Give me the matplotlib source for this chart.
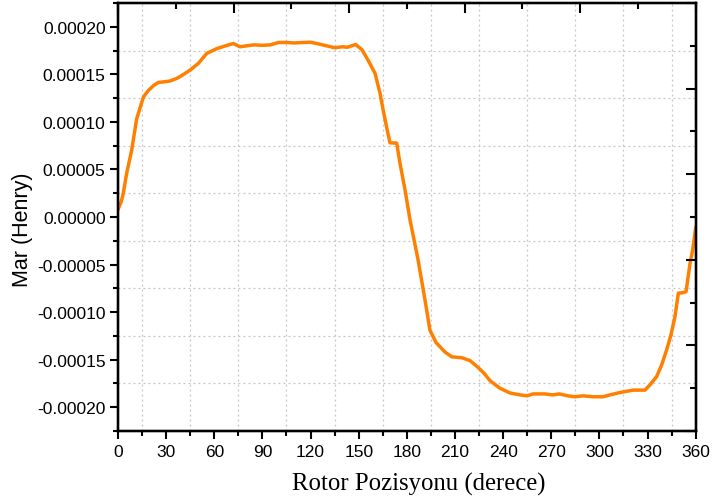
import numpy as np
import matplotlib.pyplot as plt
from matplotlib.ticker import MultipleLocator

# rotor position (degrees) and mutual inductance (Henry)
angle = [0, 2, 3.3, 5.4, 8.5, 11.6, 15.8, 18.9, 22, 25.1, 28, 32.4, 36.6, 40,
         44.9, 50, 55.3, 61.5, 67, 71.9, 76, 80.2, 85, 90, 95, 100, 105, 110,
         115, 120, 125, 130, 135, 140, 143, 148.1, 152, 155.8, 160.2, 163.3,
         165.3, 167.4, 169.5, 173.7, 175.7, 178.9, 182, 187, 191.3, 194.4,
         198.2, 203.8, 208.1, 214.4, 219.4, 224.3, 228, 231.8, 238, 244.3,
         250.5, 254.9, 258.6, 266.1, 271.1, 275, 280.4, 284.8, 289.8, 296,
         302.2, 306.6, 311.6, 316, 321, 328.4, 331.5, 335.7, 338.8, 341.9,
         344.6, 347.1, 349.2, 351.3, 354, 356.5, 358.1, 360]
mar = [0.000008, 0.000016, 0.000025, 0.000046, 0.000070, 0.000103, 0.000126,
       0.000133, 0.000138, 0.0001415, 0.000142, 0.000143, 0.0001457, 0.000149,
       0.0001544, 0.0001614, 0.000172, 0.000177, 0.00018, 0.0001824, 0.000179,
       0.00018, 0.000181, 0.0001805, 0.000181, 0.0001835, 0.0001835, 0.000183,
       0.0001835, 0.0001838, 0.000182, 0.00018, 0.000178, 0.000179, 0.0001785,
       0.0001814, 0.000176, 0.000165, 0.000151, 0.000130, 0.000112, 0.0000945,
       0.000078, 0.0000777, 0.0000567, 0.0000284, -0.0000032, -0.000045,
       -0.000087, -0.000119, -0.000132, -0.000142, -0.000147, -0.000148,
       -0.000151, -0.000158, -0.000164, -0.000172, -0.00018, -0.000185,
       -0.000187, -0.000188, -0.000186, -0.000186, -0.000187, -0.000186,
       -0.000188, -0.000189, -0.000188, -0.000189, -0.000189, -0.000187,
       -0.000185, -0.0001835, -0.000182, -0.000182, -0.0001765, -0.0001677,
       -0.0001555, -0.0001397, -0.000124, -0.0001047, -0.00008, -0.0000798,
       -0.0000785, -0.0000486, -0.0000347, -0.0000116]

x_ticks = list(range(0, 361, 30))
y_ticks = [-0.0002, -0.00015, -0.0001, -0.00005, 0.0, 0.00005, 0.0001,
           0.00015, 0.0002]

C_LINE = "#FF8000"

plt.rcParams["font.family"] = ["Liberation Sans", "DejaVu Sans"]

fig = plt.figure(figsize=(7.13, 5.02), dpi=100)
ax = fig.add_axes([0.1655, 0.1394, 0.8102, 0.8526])

ax.plot(angle, mar, color=C_LINE, lw=2.5, solid_joinstyle="round")

ax.set_xlim(0, 360)
ax.set_ylim(-0.000225, 0.000225)
ax.set_xticks(x_ticks)
ax.set_yticks(y_ticks)
ax.set_yticklabels([f"{v:.5f}" for v in y_ticks])
ax.xaxis.set_minor_locator(MultipleLocator(15))
ax.yaxis.set_minor_locator(MultipleLocator(0.000025))

# grid sits on the minor ticks only
ax.grid(False)
for gx in np.arange(15, 360, 30):
    ax.axvline(gx, color="#c4c4c4", lw=0.9, ls=(0, (1.5, 2.5)), zorder=0)
for gy in np.arange(-0.000175, 0.0002, 0.00005):
    ax.axhline(gy, color="#c4c4c4", lw=0.9, ls=(0, (1.5, 2.5)), zorder=0)

ax.tick_params(which="major", direction="out", length=6, width=1.5,
               labelsize=12.5, pad=3)
ax.tick_params(which="minor", direction="out", length=3.5, width=1.5)
ax.tick_params(top=False, right=False, which="both")
for s in ax.spines.values():
    s.set_linewidth(1.6)

ax.set_ylabel("Mar (Henry)", fontsize=15.5)
ax.yaxis.set_label_coords(-0.148, 0.473)
ax.set_xlabel("Rotor Pozisyonu (derece)", fontsize=17.8,
              family=["Liberation Serif", "DejaVu Serif"])
ax.xaxis.set_label_coords(0.52, -0.095)

# Origin-style mirrored axes with their own tick spacing, no labels
ax_top = ax.twiny()
ax_top.set_xlim(0, 5)
ax_top.xaxis.set_major_locator(MultipleLocator(1))
ax_top.xaxis.set_minor_locator(MultipleLocator(0.5))
ax_top.tick_params(axis="x", which="major", direction="in", length=7,
                   width=1.5, labeltop=False)
ax_top.tick_params(axis="x", which="minor", direction="in", length=4,
                   width=1.5)

ax_right = ax.twinx()
ax_right.set_ylim(0, 5)
ax_right.yaxis.set_major_locator(MultipleLocator(1))
ax_right.yaxis.set_minor_locator(MultipleLocator(0.5))
ax_right.tick_params(axis="y", which="major", direction="in", length=7,
                     width=1.5, labelright=False)
ax_right.tick_params(axis="y", which="minor", direction="in", length=4,
                     width=1.5)
for a in (ax_top, ax_right):
    for s in a.spines.values():
        s.set_linewidth(1.6)

fig.savefig("out.png", dpi=100)
